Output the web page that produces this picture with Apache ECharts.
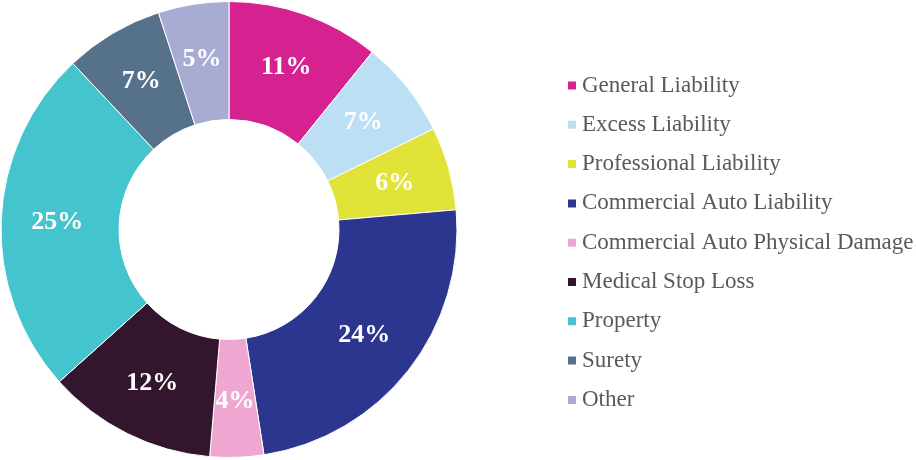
<!DOCTYPE html>
<html>
<head>
<meta charset="utf-8">
<script src="https://cdn.jsdelivr.net/npm/echarts@6/dist/echarts.min.js"></script>
<style>
  html, body { margin: 0; padding: 0; background: #fff; }
  #chart { width: 916px; height: 460px; }
</style>
</head>
<body>
<div id="chart"></div>
<script>
// share of premium by line, percent
const categories = ['General Liability', 'Excess Liability', 'Professional Liability',
  'Commercial Auto Liability', 'Commercial Auto Physical Damage', 'Medical Stop Loss',
  'Property', 'Surety', 'Other']
const shares = [10.8, 6.9, 5.9, 23.9, 3.8, 12.0, 24.6, 7.0, 5.0]
const colors = ['#D62290', '#BDDFF4', '#E2E339', '#2D368E', '#EFA7D2', '#33162E',
  '#44C4CC', '#56718A', '#A9ACD2']

const serif = '"Liberation Serif", "Times New Roman", Times, serif'

const chart = echarts.init(document.getElementById('chart'))
chart.setOption({
  animation: false,
  color: colors,
  legend: {
    orient: 'vertical',
    left: 561,
    top: 69,
    itemWidth: 10,
    itemHeight: 10,
    itemGap: 16.3,
    icon: 'rect',
    textStyle: {
      fontFamily: serif,
      fontSize: 23,
      lineHeight: 23,
      color: '#595959'
    },
    data: categories
  },
  series: [
    {
      type: 'pie',
      center: [229, 229.5],
      radius: [110, 228],
      startAngle: 90,
      clockwise: true,
      itemStyle: { borderColor: '#fff', borderWidth: 1 },
      label: {
        position: 'inside',
        color: '#fff',
        fontFamily: serif,
        fontWeight: 'bold',
        fontSize: 26,
        formatter: p => Math.round(p.value) + '%'
      },
      labelLine: { show: false },
      emphasis: { disabled: true },
      data: categories.map((name, i) => ({ name, value: shares[i] }))
    }
  ]
})
</script>
</body>
</html>
